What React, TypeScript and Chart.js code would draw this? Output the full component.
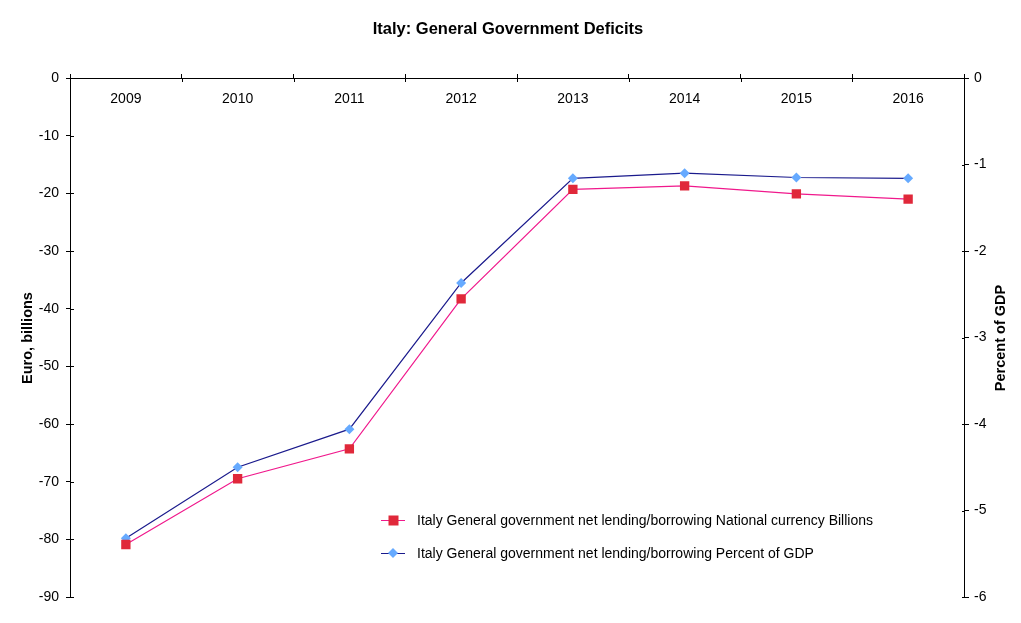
import React, { useEffect, useRef } from "react";
import { Chart, registerables } from "chart.js";

Chart.register(...registerables);

const years = ["2009", "2010", "2011", "2012", "2013", "2014", "2015", "2016"];
const billions = [-80.9, -69.5, -64.3, -38.3, -19.3, -18.7, -20.1, -21.0];
const percentGdp = [-5.32, -4.5, -4.06, -2.37, -1.16, -1.1, -1.15, -1.16];
const leftTicks = { min: -90, max: 0, step: 10 };
const rightTicks = { min: -6, max: 0, step: 1 };
const titleText = "Italy: General Government Deficits";
const leftTitle = "Euro, billions";
const rightTitle = "Percent of GDP";
const seriesNames = [
  "Italy General government net lending/borrowing National currency Billions",
  "Italy General government net lending/borrowing Percent of GDP",
];

const FONT = "Arial, 'Liberation Sans', sans-serif";

const overlay = {
  id: "overlay",
  afterDraw(chart: any) {
    const ctx = chart.ctx;
    const area = chart.chartArea;
    const xs = chart.scales.x;
    const yl = chart.scales.y;
    const yr = chart.scales.y1;
    ctx.save();
    // inward tick marks
    ctx.strokeStyle = "#000";
    ctx.lineWidth = 1;
    ctx.beginPath();
    for (let i = 0; i <= years.length; i++) {
      const px = Math.round(xs.getPixelForValue(i - 0.5)) + 0.5;
      ctx.moveTo(px, area.top);
      ctx.lineTo(px, area.top + 4);
    }
    yl.ticks.forEach((t: any) => {
      const py = Math.round(yl.getPixelForValue(t.value)) + 0.5;
      ctx.moveTo(area.left, py);
      ctx.lineTo(area.left + 4, py);
    });
    yr.ticks.forEach((t: any) => {
      const py = Math.round(yr.getPixelForValue(t.value)) + 0.5;
      ctx.moveTo(area.right, py);
      ctx.lineTo(area.right - 2, py);
    });
    ctx.stroke();

    // x labels inside plot, below top axis
    ctx.fillStyle = "#000";
    ctx.font = `14px ${FONT}`;
    ctx.textAlign = "center";
    ctx.textBaseline = "middle";
    years.forEach((y, i) => {
      ctx.fillText(y, xs.getPixelForValue(i), area.top + 21);
    });

    // title
    ctx.font = `bold 16.5px ${FONT}`;
    ctx.fillText(titleText, 508, 29);

    // axis titles
    ctx.font = `bold 14.5px ${FONT}`;
    ctx.save();
    ctx.translate(28, 338);
    ctx.rotate(-Math.PI / 2);
    ctx.fillText(leftTitle, 0, 0);
    ctx.restore();
    ctx.save();
    ctx.translate(1001, 338);
    ctx.rotate(-Math.PI / 2);
    ctx.fillText(rightTitle, 0, 0);
    ctx.restore();

    // legend
    ctx.font = `14px ${FONT}`;
    ctx.textAlign = "left";
    const ds = chart.data.datasets;
    const rows = [520, 553];
    ds.forEach((d: any, i: number) => {
      const y = rows[i];
      ctx.strokeStyle = d.borderColor;
      ctx.lineWidth = 1;
      ctx.beginPath();
      ctx.moveTo(381, y + 0.5);
      ctx.lineTo(405, y + 0.5);
      ctx.stroke();
      ctx.fillStyle = d.pointBackgroundColor;
      if (i === 0) {
        ctx.fillRect(388.5, y - 4.5, 10, 10);
      } else {
        ctx.beginPath();
        ctx.moveTo(393, y - 5);
        ctx.lineTo(398, y);
        ctx.lineTo(393, y + 5);
        ctx.lineTo(388, y);
        ctx.closePath();
        ctx.fill();
      }
      ctx.fillStyle = "#000";
      ctx.fillText(seriesNames[i], 417, y + 1);
    });
    ctx.restore();
  },
};

export default function App() {
  const ref = useRef<HTMLCanvasElement>(null);
  useEffect(() => {
    document.body.style.margin = "0";
    const chart = new Chart(ref.current as HTMLCanvasElement, {
      type: "line",
      data: {
        labels: years,
        datasets: [
          {
            label: seriesNames[0],
            data: billions,
            yAxisID: "y",
            borderColor: "#F0198C",
            backgroundColor: "#E0283A",
            pointBackgroundColor: "#E0283A",
            pointBorderColor: "#E0283A",
            pointStyle: "rect",
            pointRadius: 6.6,
            pointBorderWidth: 0,
            borderWidth: 1.2,
            tension: 0,
          },
          {
            label: seriesNames[1],
            data: percentGdp,
            yAxisID: "y1",
            borderColor: "#1A1A8C",
            backgroundColor: "#66AAFF",
            pointBackgroundColor: "#66AAFF",
            pointBorderColor: "#66AAFF",
            pointStyle: "rectRot",
            pointRadius: 5,
            pointBorderWidth: 0,
            borderWidth: 1.2,
            tension: 0,
          },
        ],
      },
      options: {
        responsive: false,
        animation: false,
        layout: { padding: { left: 0, right: 0, top: 0, bottom: 26 } },
        plugins: {
          legend: { display: false },
          title: { display: false },
          tooltip: { enabled: false },
        },
        scales: {
          x: {
            type: "category",
            position: "top",
            offset: true,
            ticks: { display: false },
            grid: {
              display: true,
              offset: true,
              drawOnChartArea: false,
              drawTicks: true,
              tickLength: 4,
              color: "#000",
            },
            border: { display: true, color: "#000", width: 1 },
            afterFit: (s: any) => {
              s.height = 78;
            },
          },
          y: {
            type: "linear",
            position: "left",
            min: leftTicks.min,
            max: leftTicks.max,
            ticks: {
              stepSize: leftTicks.step,
              color: "#000",
              font: { size: 14, family: FONT },
              padding: 7,
            },
            grid: {
              drawOnChartArea: false,
              tickLength: 4,
              color: "#000",
            },
            border: { display: true, color: "#000", width: 1 },
            afterFit: (s: any) => {
              s.width = 70;
            },
          },
          y1: {
            type: "linear",
            position: "right",
            min: rightTicks.min,
            max: rightTicks.max,
            ticks: {
              stepSize: rightTicks.step,
              color: "#000",
              font: { size: 14, family: FONT },
              padding: 5,
            },
            grid: {
              drawOnChartArea: false,
              tickLength: 5,
              color: "#000",
            },
            border: { display: true, color: "#000", width: 1 },
            afterFit: (s: any) => {
              s.width = 57;
            },
          },
        },
      },
      plugins: [overlay],
    });
    return () => chart.destroy();
  }, []);
  return (
    <div style={{ width: 1021, height: 623, background: "#fff" }}>
      <canvas ref={ref} width={1021} height={623} style={{ display: "block" }} />
    </div>
  );
}
